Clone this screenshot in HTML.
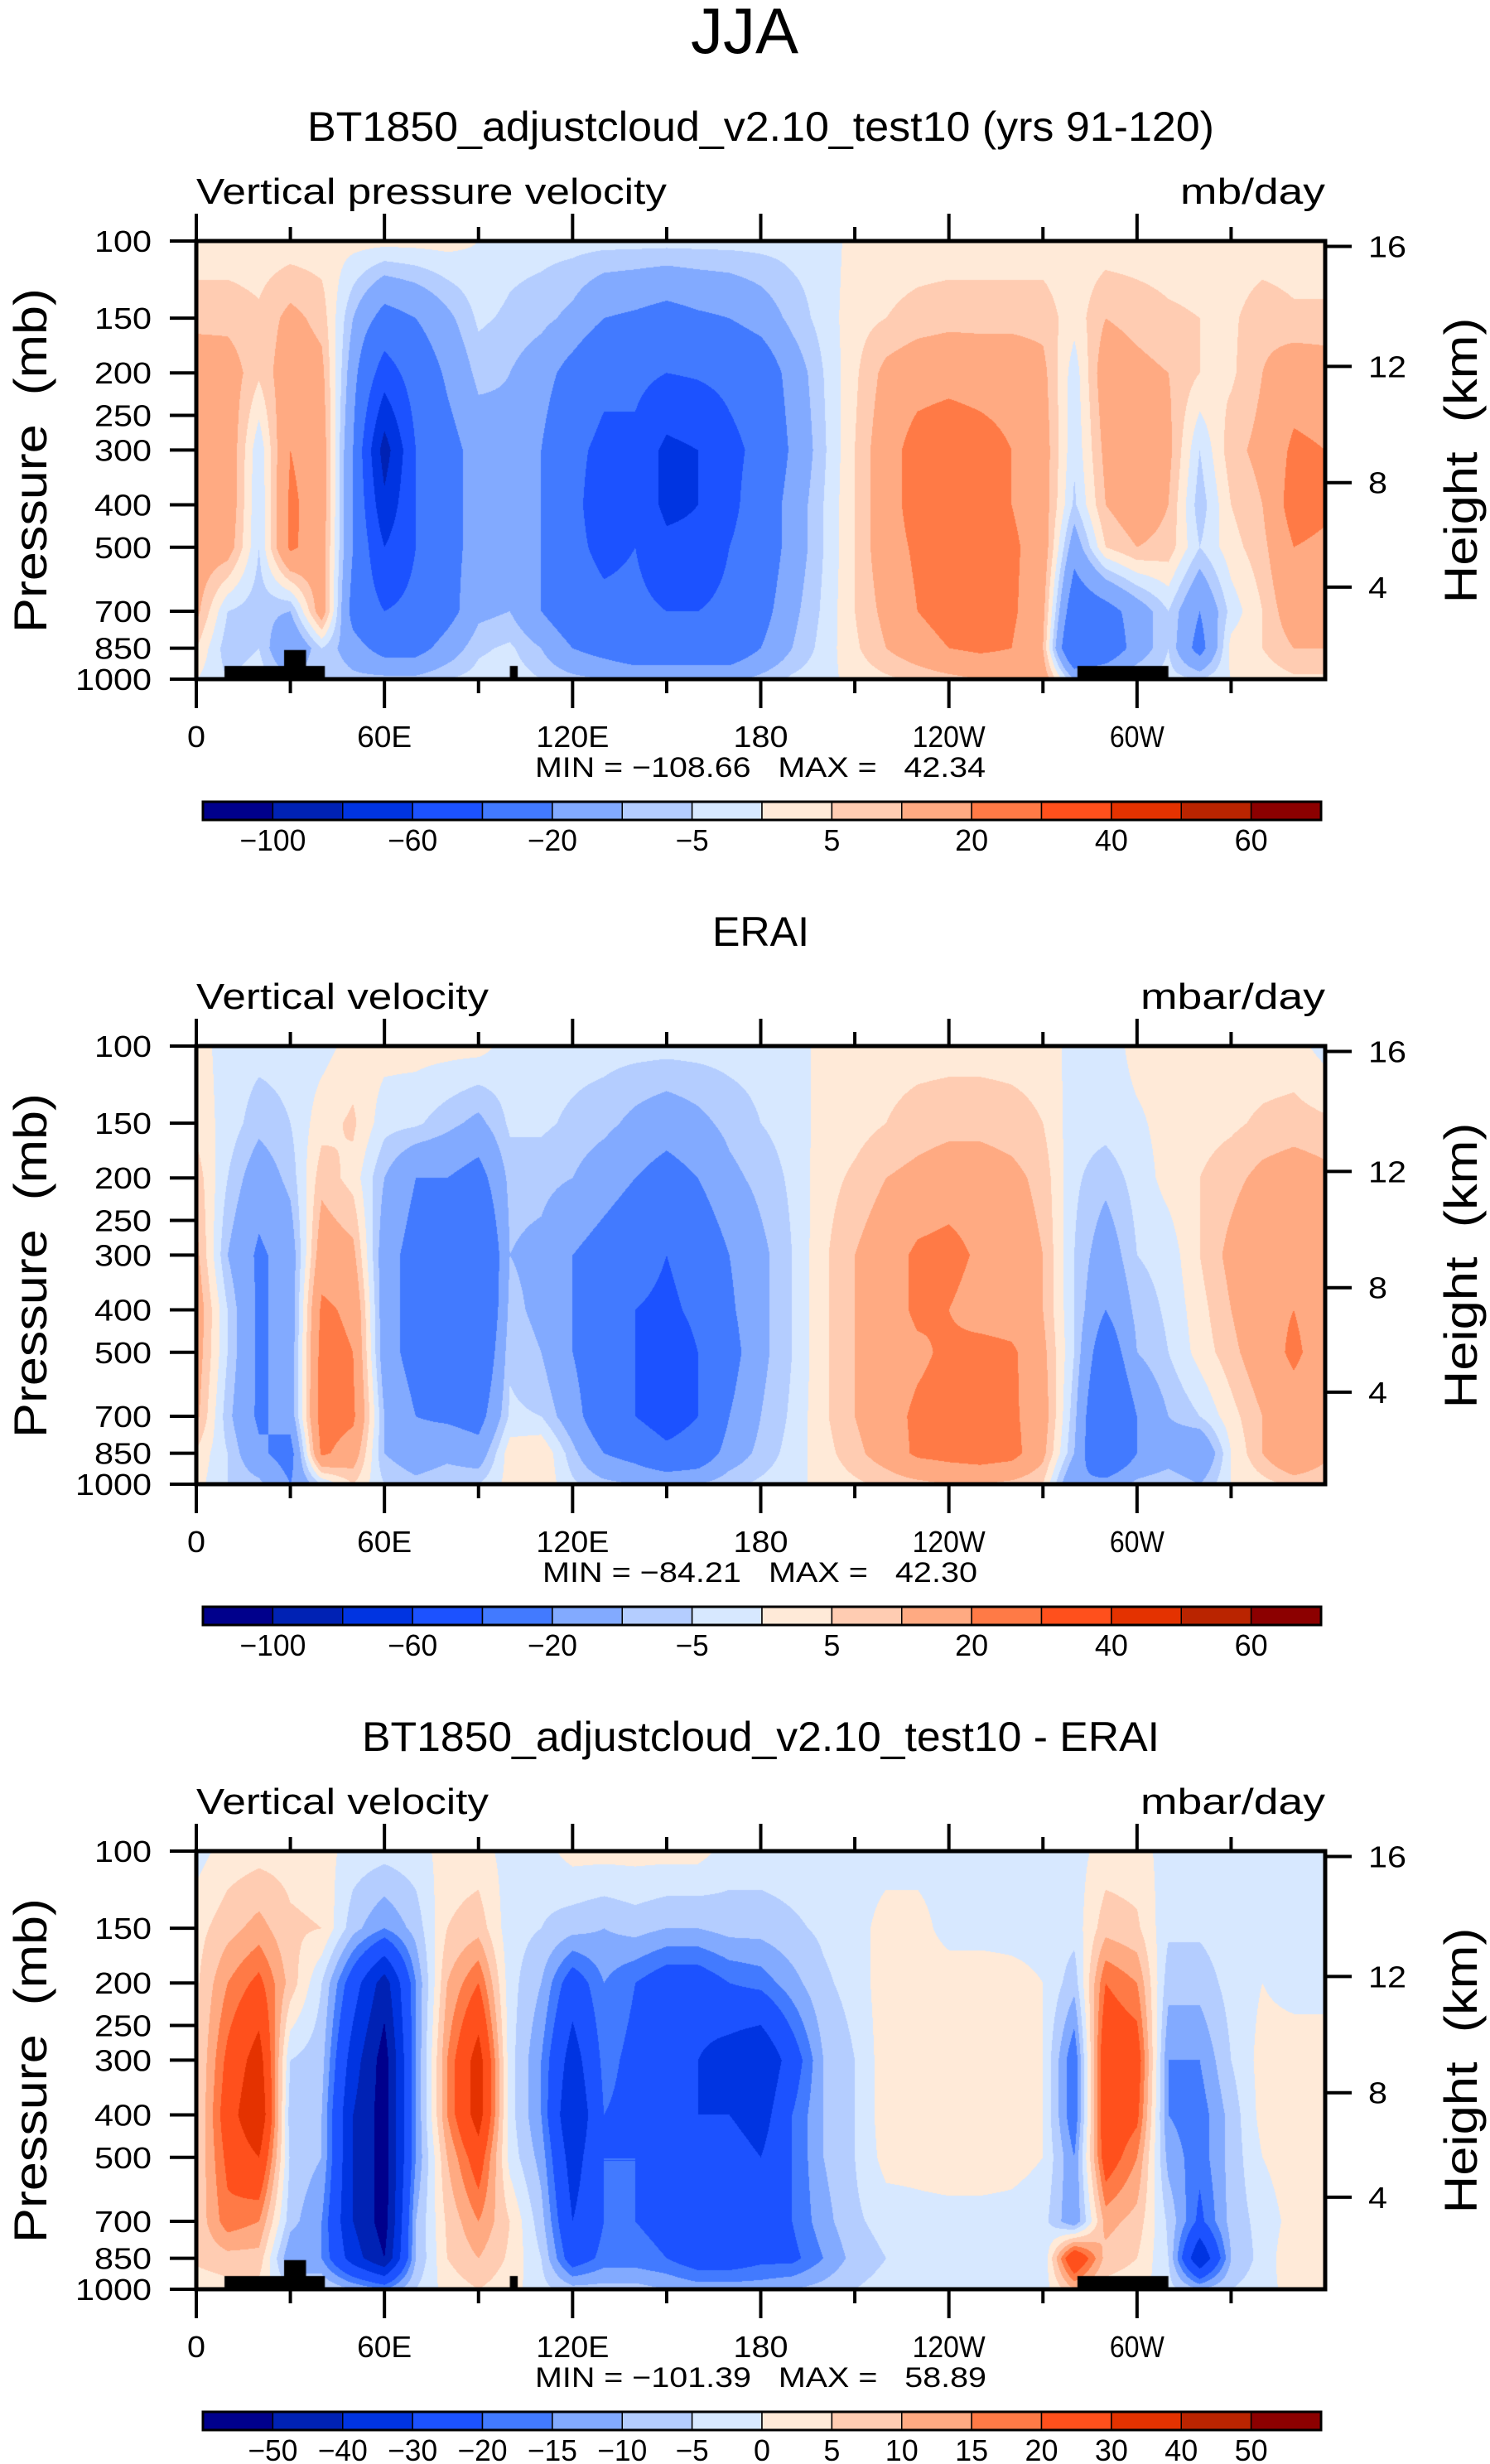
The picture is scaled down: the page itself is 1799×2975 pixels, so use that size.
<!DOCTYPE html>
<html><head><meta charset="utf-8">
<style>
html,body{margin:0;padding:0;background:#fff;}
#root{position:relative;width:1799px;height:2975px;overflow:hidden;background:#fff;}
canvas{position:absolute;}
svg{position:absolute;left:0;top:0;}
text{font-family:"Liberation Sans",sans-serif;fill:#000;}
</style></head>
<body>
<div id="root">
<canvas id="c0" width="1363" height="529" style="left:237px;top:291px"></canvas>
<canvas id="c1" width="1363" height="529" style="left:237px;top:1263px"></canvas>
<canvas id="c2" width="1363" height="529" style="left:237px;top:2235px"></canvas>
<svg id="s" width="1799" height="2975"></svg>
</div>
<script>
const lons=[0,10,20,30,40,50,60,70,80,90,100,110,120,130,140,150,160,170,180,190,200,210,220,230,240,250,260,270,280,290,300,310,320,330,340,350,360];
const levels=[100,150,200,300,400,500,700,850,1000];
const modelField=[
[2,2,2,2,2,2,2,2,2,0,-3,-3,-3,-3,-3,-3,-3,-3,-3,-3,-3,2,2,2,2,2,2,2,2,2,2,2,2,2,2,2,2],
[8,8,6,12,8,-10,-25,-20,-12,-4,-6,-8,-12,-20,-22,-25,-22,-20,-15,-8,-3,3,5,7,8,8,8,8,2,10,8,6,5,4,8,6,6],
[15,14,6,15,12,-15,-50,-30,-18,-8,-10,-15,-25,-35,-35,-40,-38,-35,-30,-15,-5,4,12,15,16,15,15,12,-3,15,12,10,5,4,10,15,14],
[18,16,-4,20,15,-20,-90,-40,-25,-15,-12,-20,-35,-45,-45,-65,-60,-45,-35,-18,-6,5,15,25,28,25,20,14,-4,12,18,12,-5,8,12,22,20],
[20,16,-5,22,15,-20,-75,-40,-25,-15,-10,-20,-35,-50,-45,-65,-60,-45,-30,-15,-5,5,15,25,25,25,20,14,-6,10,15,10,-8,5,10,25,22],
[15,14,-5,22,14,-20,-60,-40,-25,-15,-12,-20,-35,-45,-40,-55,-55,-40,-30,-15,-5,5,15,22,25,25,22,15,-15,5,10,8,-5,3,8,20,18],
[12,-5,-8,-10,15,-25,-40,-35,-25,-12,-10,-20,-30,-35,-35,-40,-40,-35,-25,-12,-4,5,12,20,25,25,22,12,-30,-25,-15,-5,-20,-3,5,15,15],
[5,-8,-5,-20,-5,-15,-25,-25,-15,-6,-4,-10,-20,-25,-30,-30,-30,-30,-20,-10,-3,4,10,15,20,22,20,10,-40,-30,-15,-5,-25,2,5,10,10],
[0,-5,-2,-10,-5,-8,-8,-8,-5,-3,-2,-5,-8,-10,-12,-12,-12,-12,-8,-4,-2,2,4,6,8,10,12,15,-10,-10,-5,-3,-5,0,2,4,4]];
const eraiField=[
[2,-2,-3,-3,-2,2,2,2,2,2,-2,-3,-3,-3,-3,-3,-3,-3,-3,-3,2,3,3,3,3,3,3,3,-2,-3,2,2,2,2,2,2,-2],
[3,-2,-8,-5,3,6,-3,-4,-8,-12,-4,-4,-6,-8,-12,-15,-12,-8,-5,-3,2,3,5,7,8,8,7,5,-3,-3,-1,2,3,4,6,7,6],
[8,-5,-15,-8,8,3,-10,-20,-20,-25,-8,-8,-10,-15,-20,-25,-20,-12,-8,-4,3,6,10,12,14,14,12,8,-4,-8,-3,2,5,8,12,14,12],
[12,-10,-22,-15,15,12,-15,-25,-30,-40,-10,-12,-20,-25,-30,-40,-30,-20,-12,-5,4,10,15,22,24,18,15,10,-5,-15,-5,-3,5,12,18,18,15],
[15,-5,-22,-15,22,18,-15,-25,-30,-40,-8,-12,-20,-30,-40,-45,-35,-22,-12,-5,4,10,15,22,20,15,14,10,-5,-20,-8,-4,3,10,17,20,15],
[14,-5,-22,-15,24,20,-15,-25,-25,-35,-6,-10,-20,-30,-40,-55,-40,-25,-12,-5,4,10,14,18,22,24,22,12,-5,-30,-10,-5,2,8,15,22,15],
[12,-8,-22,-15,25,22,-10,-20,-22,-25,-4,-5,-15,-30,-40,-50,-40,-20,-10,-4,4,10,16,22,24,24,22,14,-8,-40,-20,-10,-5,3,10,15,12],
[4,-5,-18,-25,22,15,-10,-15,-12,-15,3,5,-8,-20,-25,-35,-30,-15,-8,-3,3,8,14,22,24,26,24,12,-10,-40,-20,-15,-20,0,10,20,12],
[2,-5,-8,-20,-5,5,-5,-8,-6,-5,2,4,-4,-8,-10,-10,-10,-6,-4,-2,2,4,6,8,10,10,8,5,-20,-15,-8,-5,-10,0,3,6,5]];
const diffField=[
[-2,2,3,3,2,-2,-3,-2,2,2,-2,-2,2,2,2,2,2,-2,-2,-2,-2,-2,-2,-2,-2,-2,-2,-2,-2,2,2,-2,-2,-2,-3,-3,-2],
[3,8,12,6,5,-8,-15,-8,5,8,-3,-5,-8,-10,-8,-10,-10,-8,-8,-6,-4,-2,2,2,-2,-2,-2,-2,-3,8,6,-4,-4,-2,-2,-2,-2],
[4,15,22,8,-5,-25,-45,-15,10,20,-3,-10,-25,-15,-20,-25,-25,-20,-18,-12,-6,-3,3,3,3,3,2,0,-8,20,15,-8,-8,-3,0,-2,-2],
[4,22,35,-5,-8,-35,-55,-15,15,35,-3,-15,-35,-18,-22,-25,-30,-35,-40,-25,-10,-5,3,4,4,4,3,0,-20,28,25,-15,-15,-5,2,3,3],
[4,25,40,-8,-10,-40,-55,-15,15,35,-3,-15,-40,-20,-22,-25,-30,-30,-35,-20,-10,-5,3,4,4,4,3,0,-20,28,22,-15,-18,-8,2,3,3],
[5,22,30,-6,-10,-40,-55,-15,10,25,-2,-12,-35,-20,-20,-25,-25,-25,-30,-20,-10,-5,2,2,3,3,2,0,-15,25,15,-12,-18,-8,0,3,2],
[6,18,15,-8,-15,-40,-55,-10,6,15,5,-8,-30,-20,-20,-22,-22,-20,-20,-20,-12,-6,-3,-2,-2,-2,-2,-3,-15,12,8,-6,-22,-8,-3,2,2],
[6,8,8,-15,-15,-35,-50,-10,5,10,4,-5,-25,-18,-18,-20,-25,-25,-22,-22,-15,-8,-5,-3,-3,-3,-3,-5,30,8,5,-5,-40,-10,-3,4,4],
[2,3,3,-5,-5,-10,-15,-5,2,5,2,-3,-8,-8,-8,-10,-12,-12,-12,-10,-8,-5,-3,-2,-2,-2,-2,-3,10,3,2,-3,-10,-5,-2,2,2]];
const boundsAbs=[-100,-80,-60,-40,-20,-10,-5,0,5,10,20,30,40,50,60];
const boundsDiff=[-50,-40,-30,-20,-15,-10,-5,0,5,10,15,20,30,40,50];
const colors=[[0,0,140],[0,34,180],[0,52,225],[28,82,255],[66,122,255],[130,170,255],[180,205,255],[215,232,255],[255,234,216],[255,204,178],[255,170,130],[255,122,70],[255,80,28],[228,50,0],[186,36,0],[140,0,0]];
const pTicks=[100,150,200,250,300,400,500,700,850,1000];
const zTicks=[4,8,12,16];
const lonTicks=[0,30,60,90,120,150,180,210,240,270,300,330];
const lonLabels=['0','','60E','','120E','','180','','120W','','60W',''];
const landLon=[[9,41,933],[28,35,858],[100,102.5,933],[281,310,933]];

const X0=237,W=1363,H=529;
function yOfP(p){return (Math.log10(p)-2)*H;}
function xOfLon(l){return l/360*W;}
function pOfZ(z){z*=1000;return z<=11000?1013.25*Math.pow(1-2.25577e-5*z,5.25588):226.32*Math.exp(-(z-11000)/6341.6);}

function drawField(id,field,bounds,land){
  const cv=document.getElementById(id),ctx=cv.getContext('2d');
  const img=ctx.createImageData(W,H),d=img.data;
  const lp=levels.map(Math.log10);
  for(let py=0;py<H;py++){
    const l=2+(py+0.5)/H;
    let i=0;while(i<lp.length-2&&l>lp[i+1])i++;
    let ty=(l-lp[i])/(lp[i+1]-lp[i]);ty=Math.max(0,Math.min(1,ty));
    for(let px=0;px<W;px++){
      const lon=(px+0.5)/W*360;let j=Math.min(35,Math.floor(lon/10));const tx=(lon-lons[j])/10;
      const v=(1-ty)*((1-tx)*field[i][j]+tx*field[i][j+1])+ty*((1-tx)*field[i+1][j]+tx*field[i+1][j+1]);
      let k=0;while(k<bounds.length&&v>=bounds[k])k++;
      const c=colors[k],o=(py*W+px)*4;d[o]=c[0];d[o+1]=c[1];d[o+2]=c[2];d[o+3]=255;
    }
  }
  ctx.putImageData(img,0,0);
  if(land){ctx.fillStyle='#000';for(const r of landLon){const x1=xOfLon(r[0]),x2=xOfLon(r[1]);ctx.fillRect(x1,yOfP(r[2]),x2-x1,H-yOfP(r[2]));}}
}
drawField('c0',modelField,boundsAbs,true);
drawField('c1',eraiField,boundsAbs,false);
drawField('c2',diffField,boundsDiff,true);

const svg=document.getElementById('s'),NS='http://www.w3.org/2000/svg';
function mk(tag,a,parent){const e=document.createElementNS(NS,tag);for(const k in a)e.setAttribute(k,a[k]);(parent||svg).appendChild(e);return e;}
function txt(s,a,parent){const e=mk('text',a,parent);e.textContent=s;return e;}

let t=txt('JJA',{x:899,y:64,'font-size':78,'text-anchor':'middle',textLength:130,lengthAdjust:'spacingAndGlyphs'});



function panel(off,o){
  const g=mk('g',{});
  
  
  const top=291+off,bot=top+H,R=X0+W;
  let e=txt(o.title,{x:o.tx,y:170+off,'font-size':50,textLength:o.tl,lengthAdjust:'spacingAndGlyphs'},g);
  
  
  e=txt(o.left,{x:237,y:246+off,'font-size':44,textLength:o.ll,lengthAdjust:'spacingAndGlyphs'},g);
  
  
  e=txt(o.units,{x:1600,y:246+off,'font-size':44,'text-anchor':'end',textLength:o.ul,lengthAdjust:'spacingAndGlyphs'},g);
  
  
  lonTicks.forEach((l,i)=>{
    const x=X0+xOfLon(l),major=(l%60===0);
    let tk=mk('line',{x1:x,x2:x,y1:top,y2:top-(major?33:17),stroke:'#000','stroke-width':4},g);
    
    
    tk=mk('line',{x1:x,x2:x,y1:bot,y2:bot+(major?35:17),stroke:'#000','stroke-width':4},g);
    
    
    if(lonLabels[i]){const lb=txt(lonLabels[i],{x:x,y:902+off,'font-size':36,'text-anchor':'middle',textLength:lonLabels[i].length*22,lengthAdjust:'spacingAndGlyphs'},g);
    
    }
  });
  pTicks.forEach(p=>{
    const y=top+yOfP(p);
    const tk=mk('line',{x1:205,x2:X0,y1:y,y2:y,stroke:'#000','stroke-width':4},g);
    
    
    const lb=txt(String(p),{x:183,y:y+13,'font-size':36,'text-anchor':'end',textLength:String(p).length*23,lengthAdjust:'spacingAndGlyphs'},g);
    
    
  });
  zTicks.forEach(z=>{
    const y=top+yOfP(pOfZ(z));
    const tk=mk('line',{x1:R,x2:1632,y1:y,y2:y,stroke:'#000','stroke-width':4},g);
    
    
    const lb=txt(String(z),{x:1652,y:y+13,'font-size':36,textLength:String(z).length*23,lengthAdjust:'spacingAndGlyphs'},g);
    
    
  });
  e=mk('rect',{x:X0,y:top,width:W,height:H,fill:'none',stroke:'#000','stroke-width':5},g);
  
  
  e=txt('Pressure  (mb)',{x:0,y:0,'font-size':56,'text-anchor':'middle',textLength:416,lengthAdjust:'spacingAndGlyphs',transform:`translate(56,${556+off}) rotate(-90)`,style:'white-space:pre'},g);
  
  
  e=txt('Height  (km)',{x:0,y:0,'font-size':56,'text-anchor':'middle',textLength:345,lengthAdjust:'spacingAndGlyphs',transform:`translate(1783,${556+off}) rotate(-90)`,style:'white-space:pre'},g);
  
  
  e=txt(o.minmax,{x:o.mx,y:938+off,'font-size':34,textLength:o.ml,lengthAdjust:'spacingAndGlyphs',style:'white-space:pre'},g);
  
  
  const cx0=245,cw=(1595-245)/16,cy=968+off;
  colors.forEach((c,i)=>{
    const r=mk('rect',{x:cx0+i*cw,y:cy,width:cw,height:22,fill:`rgb(${c[0]},${c[1]},${c[2]})`,stroke:'#000','stroke-width':1.5},g);
    
    
  });
  e=mk('rect',{x:cx0,y:cy,width:1350,height:22,fill:'none',stroke:'#000','stroke-width':3},g);
  
  
  o.bounds.forEach((b,i)=>{
    if(o.every2&&i%2)return;
    const s=b<0?'\u2212'+Math.abs(b):String(b);
    const lb=txt(s,{x:cx0+(i+1)*cw,y:1027+off,'font-size':36,'text-anchor':'middle',textLength:s.length*20,lengthAdjust:'spacingAndGlyphs'},g);
    
    
  });
}
panel(0,{name:'model-panel',title:'BT1850_adjustcloud_v2.10_test10 (yrs 91-120)',tx:371,tl:1095,left:'Vertical pressure velocity',ll:568,units:'mb/day',ul:175,minmax:'MIN = \u2212108.66   MAX =   42.34',mx:646,ml:544,bounds:boundsAbs,every2:true});
panel(972,{name:'erai-panel',title:'ERAI',tx:860,tl:117,left:'Vertical velocity',ll:353,units:'mbar/day',ul:223,minmax:'MIN = \u221284.21   MAX =   42.30',mx:655,ml:525,bounds:boundsAbs,every2:true});
panel(1944,{name:'difference-panel',title:'BT1850_adjustcloud_v2.10_test10 - ERAI',tx:437,tl:963,left:'Vertical velocity',ll:353,units:'mbar/day',ul:223,minmax:'MIN = \u2212101.39   MAX =   58.89',mx:646,ml:545,bounds:boundsDiff,every2:false});
</script>
</body></html>
